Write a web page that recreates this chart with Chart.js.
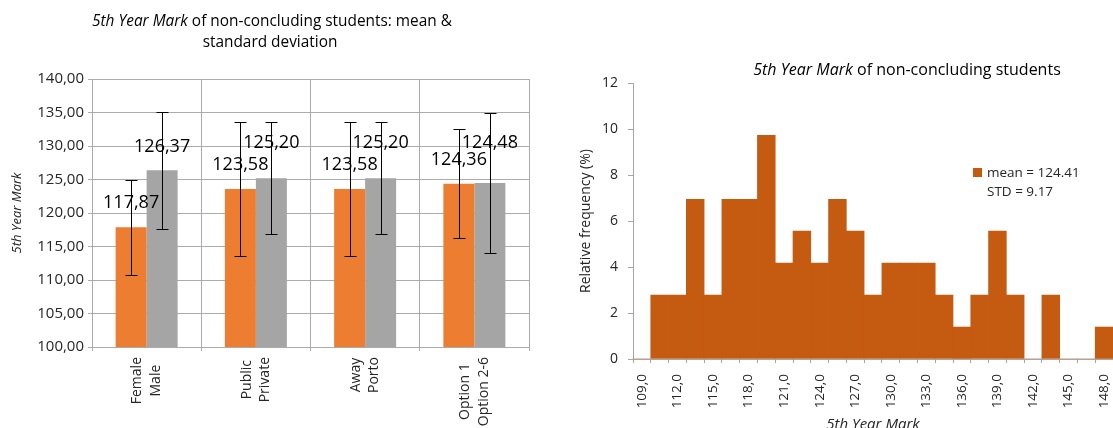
<!DOCTYPE html>
<html>
<head>
<meta charset="utf-8">
<script src="https://cdn.jsdelivr.net/npm/chart.js@4.4.0/dist/chart.umd.min.js"></script>
<style>
  html, body { margin: 0; padding: 0; background: #fff; }
  #wrap { display: flex; width: 1113px; height: 428px; overflow: hidden; }
  canvas { display: block; }
</style>
</head>
<body>
<div id="wrap">
  <canvas id="meanChart" width="560" height="428"></canvas>
  <canvas id="histChart" width="553" height="428"></canvas>
</div>
<script>
// Group comparisons: each category holds a pair of groups
const groupPairs = [['Female', 'Male'], ['Public', 'Private'], ['Away', 'Porto'], ['Option 1', 'Option 2-6']];
const firstMeans = [117.87, 123.58, 123.58, 124.36];
const secondMeans = [126.37, 125.20, 125.20, 124.48];
const firstSD = [7.07, 9.98, 9.98, 8.12];
const secondSD = [8.75, 8.35, 8.35, 10.45];

// Histogram of the 5th year mark, bins of 1.5 points
const binLabels = ['109,0', '110,5', '112,0', '113,5', '115,0', '116,5', '118,0', '119,5', '121,0',
  '122,5', '124,0', '125,5', '127,0', '128,5', '130,0', '131,5', '133,0', '134,5', '136,0',
  '137,5', '139,0', '140,5', '142,0', '143,5', '145,0', '146,5', '148,0'];
const relFreq = [0, 2.78, 2.78, 6.94, 2.78, 6.94, 6.94, 9.72, 4.17, 5.56, 4.17, 6.94, 5.56, 2.78,
  4.17, 4.17, 4.17, 2.78, 1.39, 2.78, 5.56, 2.78, 0, 2.78, 0, 0, 1.39];
const histMean = 124.41;
const histSTD = 9.17;

// Vertical lift of each value label above its bar (px), per series
const labelLift = [[24, 24, 24.5, 24], [23, 35.5, 35, 40]];

const FONT = '"Open Sans", "DejaVu Sans", sans-serif';
const GRID = '#ABABAB';
const TEXT = '#262626';

const fmtComma = (v, d) => v.toFixed(d).replace('.', ',');

// Draws a line made of italic / upright runs, centred on cx
function drawRuns(ctx, runs, cx, y, size) {
  let total = 0;
  const widths = runs.map(([t, it]) => {
    ctx.font = (it ? 'italic ' : '') + size + 'px ' + FONT;
    const w = ctx.measureText(t).width;
    total += w;
    return w;
  });
  let x = cx - total / 2;
  ctx.textAlign = 'left';
  runs.forEach(([t, it], k) => {
    ctx.font = (it ? 'italic ' : '') + size + 'px ' + FONT;
    ctx.fillText(t, x, y);
    x += widths[k];
  });
}

const meanDecor = {
  id: 'meanDecor',
  afterDatasetsDraw(chart) {
    const ctx = chart.ctx, ys = chart.scales.y;
    const means = [firstMeans, secondMeans], sds = [firstSD, secondSD];
    ctx.save();
    // value labels
    ctx.font = '18px ' + FONT;
    ctx.fillStyle = '#000';
    ctx.textAlign = 'center';
    ctx.textBaseline = 'middle';
    [0, 1].forEach(d => {
      chart.getDatasetMeta(d).data.forEach((bar, i) => {
        ctx.fillText(fmtComma(means[d][i], 2), bar.x, bar.y - labelLift[d][i]);
      });
    });
    // standard deviation whiskers
    ctx.strokeStyle = '#000';
    ctx.lineWidth = 1;
    [0, 1].forEach(d => {
      chart.getDatasetMeta(d).data.forEach((bar, i) => {
        const x = Math.round(bar.x) + 0.5;
        const yt = Math.round(ys.getPixelForValue(means[d][i] + sds[d][i])) + 0.5;
        const yb = Math.round(ys.getPixelForValue(means[d][i] - sds[d][i])) + 0.5;
        ctx.beginPath();
        ctx.moveTo(x, yt); ctx.lineTo(x, yb);
        ctx.moveTo(x - 6, yt); ctx.lineTo(x + 6, yt);
        ctx.moveTo(x - 6, yb); ctx.lineTo(x + 6, yb);
        ctx.stroke();
      });
    });
    ctx.restore();
  },
  afterDraw(chart) {
    const ctx = chart.ctx, xs = chart.scales.x;
    ctx.save();
    ctx.fillStyle = '#000';
    ctx.textBaseline = 'alphabetic';
    drawRuns(ctx, [['5th Year Mark', true], [' of non-concluding students: mean &', false]], 272, 26, 15.4);
    drawRuns(ctx, [['standard deviation', false]], 270, 46.5, 15.4);

    // y axis title
    ctx.save();
    ctx.translate(17, 213);
    ctx.rotate(-Math.PI / 2);
    ctx.font = 'italic 13px ' + FONT;
    ctx.textAlign = 'center';
    ctx.textBaseline = 'middle';
    ctx.fillStyle = TEXT;
    ctx.fillText('5th Year Mark', 0, 0);
    ctx.restore();

    // category labels: two rotated lines per pair, centred on each other
    ctx.font = '14px ' + FONT;
    ctx.fillStyle = TEXT;
    const lineH = 18.5, top = 357;
    groupPairs.forEach((lines, i) => {
      const cx = xs.getPixelForValue(i);
      const blockW = Math.max(...lines.map(l => ctx.measureText(l).width));
      ctx.save();
      ctx.translate(cx, top + blockW / 2);
      ctx.rotate(-Math.PI / 2);
      ctx.textAlign = 'center';
      ctx.textBaseline = 'middle';
      lines.forEach((l, k) => {
        ctx.fillText(l, 0, (k - (lines.length - 1) / 2) * lineH);
      });
      ctx.restore();
    });
    ctx.restore();
  }
};

const histDecor = {
  id: 'histDecor',
  afterDraw(chart) {
    const ctx = chart.ctx, area = chart.chartArea;
    ctx.save();
    ctx.fillStyle = '#000';
    ctx.textBaseline = 'alphabetic';
    drawRuns(ctx, [['5th Year Mark', true], [' of non-concluding students', false]], 347, 75, 16);

    // legend block
    ctx.fillStyle = '#C55A11';
    ctx.fillRect(413, 168, 9, 9);
    ctx.fillStyle = TEXT;
    ctx.font = '13.5px ' + FONT;
    ctx.textAlign = 'left';
    ctx.textBaseline = 'middle';
    ctx.fillText('mean = ' + histMean.toFixed(2), 427, 173);
    ctx.fillText('STD = ' + histSTD.toFixed(2), 427, 192);

    // axis titles
    ctx.save();
    ctx.translate(26, (area.top + area.bottom) / 2);
    ctx.rotate(-Math.PI / 2);
    ctx.textAlign = 'center';
    ctx.font = '14px ' + FONT;
    ctx.fillText('Relative frequency (%)', 0, 0);
    ctx.restore();

    ctx.fillStyle = TEXT;
    ctx.textBaseline = 'alphabetic';
    drawRuns(ctx, [['5th Year Mark', true]], (area.left + area.right) / 2, 429, 15);
    ctx.restore();
  }
};

function build() {
  new Chart(document.getElementById('meanChart'), {
    type: 'bar',
    data: {
      labels: groupPairs,
      datasets: [
        { data: firstMeans, backgroundColor: '#ED7D31', categoryPercentage: 0.5675, barPercentage: 1, borderWidth: 0 },
        { data: secondMeans, backgroundColor: '#A5A5A5', categoryPercentage: 0.5675, barPercentage: 1, borderWidth: 0 }
      ]
    },
    options: {
      responsive: false,
      animation: false,
      layout: { padding: { top: 79, right: 31, left: 0, bottom: 0 } },
      plugins: { legend: { display: false }, tooltip: { enabled: false } },
      scales: {
        x: {
          grid: { color: GRID, offset: true, tickLength: 4, lineWidth: 1 },
          border: { color: GRID },
          ticks: { display: false },
          afterFit(s) { s.height = 81; s.paddingLeft = 0; s.paddingRight = 0; }
        },
        y: {
          min: 100, max: 140,
          grid: { color: GRID, tickLength: 4, lineWidth: 1 },
          border: { color: GRID },
          ticks: {
            stepSize: 5, padding: 4, color: TEXT,
            font: { family: FONT, size: 15 },
            callback: v => fmtComma(v, 2)
          },
          afterFit(s) { s.width = 92; s.paddingTop = 0; s.paddingBottom = 0; }
        }
      }
    },
    plugins: [meanDecor]
  });

  new Chart(document.getElementById('histChart'), {
    type: 'bar',
    data: {
      labels: binLabels,
      datasets: [{ data: relFreq, backgroundColor: '#C55A11', categoryPercentage: 1, barPercentage: 1, borderWidth: 0 }]
    },
    options: {
      responsive: false,
      animation: false,
      layout: { padding: { top: 83, right: 0, left: 0, bottom: 0 } },
      plugins: { legend: { display: false }, tooltip: { enabled: false } },
      scales: {
        x: {
          grid: { drawOnChartArea: false, offset: true, tickLength: 4, color: '#A6A6A6' },
          border: { color: '#A6A6A6' },
          ticks: {
            autoSkip: false, minRotation: 90, maxRotation: 90, padding: 11, color: TEXT,
            font: { family: FONT, size: 13.5 },
            callback: (v, i) => (i % 2 === 0 ? binLabels[i] : '')
          },
          afterFit(s) { s.height = 69; s.paddingLeft = 0; s.paddingRight = 0; }
        },
        y: {
          min: 0, max: 12,
          grid: { drawOnChartArea: false, tickLength: 5, color: '#A6A6A6' },
          border: { color: '#A6A6A6' },
          ticks: { stepSize: 2, padding: 10, color: TEXT, font: { family: FONT, size: 14 } },
          afterFit(s) { s.width = 73; s.paddingTop = 0; s.paddingBottom = 0; }
        }
      }
    },
    plugins: [histDecor]
  });
}

const fontReady = document.fonts && document.fonts.load
  ? Promise.all([
      document.fonts.load('15px "Open Sans"'),
      document.fonts.load('italic 15px "Open Sans"')
    ]).catch(() => null)
  : Promise.resolve();
fontReady.then(build, build);
</script>
</body>
</html>
